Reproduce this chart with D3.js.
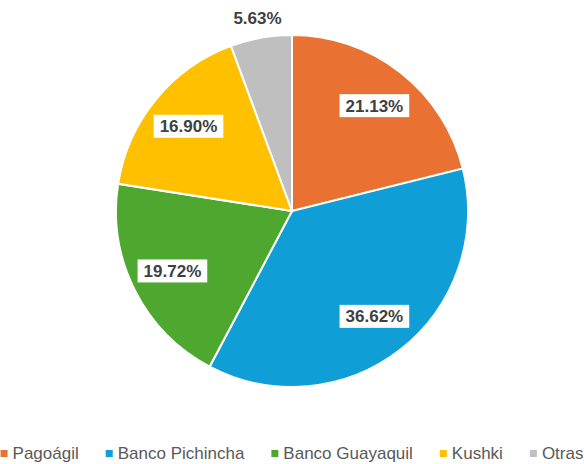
<!DOCTYPE html>
<html>
<head>
<meta charset="utf-8">
<script src="https://cdn.jsdelivr.net/npm/d3@7"></script>
<style>
  body { margin: 0; background: #fff; }
  svg { display: block; font-family: "Liberation Sans", Arial, sans-serif; }
</style>
</head>
<body>
<div id="chart"></div>
<script>
// Payment channel share (counts out of 71)
const categories = ['Pagoágil', 'Banco Pichincha', 'Banco Guayaquil', 'Kushki', 'Otras'];
const counts = [15, 26, 14, 12, 4];
const colors = ['#E97132', '#0F9ED5', '#4EA72E', '#FFC000', '#BFBFBF'];

const W = 584, H = 464;
const cx = 292, cy = 211, radius = 176;

const data = categories.map((c, i) => ({ name: c, value: counts[i], color: colors[i] }));
const total = d3.sum(counts);

const svg = d3.select('#chart').append('svg')
    .attr('width', W)
    .attr('height', H);

const g = svg.append('g')
    .attr('transform', `translate(${cx},${cy})`);

const pie = d3.pie()
    .value(d => d.value)
    .sort(null);

const arc = d3.arc()
    .innerRadius(0)
    .outerRadius(radius);

const arcs = pie(data);

g.selectAll('path')
    .data(arcs)
    .enter()
    .append('path')
    .attr('d', arc)
    .attr('fill', d => d.data.color)
    .attr('stroke', '#fff')
    .attr('stroke-width', 2);

// Data labels: inside with white box, small slices outside
const fmt = d => (d.data.value / total * 100).toFixed(2) + '%';

arcs.forEach(d => {
    const mid = (d.startAngle + d.endAngle) / 2;
    const small = d.data.value / total < 0.1;
    const r = small ? radius + 20 : radius * 0.76;
    const x = Math.sin(mid) * r;
    const y = -Math.cos(mid) * r;

    const lab = g.append('g').attr('transform', `translate(${x},${y})`);
    const t = lab.append('text')
        .attr('text-anchor', 'middle')
        .attr('dy', '0.36em')
        .style('font-size', '17px')
        .style('font-weight', 'bold')
        .attr('fill', '#404040')
        .text(fmt(d));

    if (!small) {
        const bb = t.node().getBBox();
        lab.insert('rect', 'text')
            .attr('x', bb.x - 6)
            .attr('y', -11.5)
            .attr('width', bb.width + 12)
            .attr('height', 23)
            .attr('fill', '#fff');
    }
});

// Legend
const legend = svg.append('g')
    .attr('transform', `translate(0, ${H - 5})`);

const items = [];
data.forEach(d => {
    const row = legend.append('g');
    row.append('rect')
        .attr('x', 0)
        .attr('y', -9)
        .attr('width', 7)
        .attr('height', 7)
        .attr('fill', d.color);
    const t = row.append('text')
        .attr('x', 12)
        .attr('y', 0)
        .style('font-size', '17px')
        .attr('fill', '#595959')
        .text(d.name);
    const w = 12 + t.node().getComputedTextLength();
    items.push({ row, w });
});

const gap = 27;
const totalW = d3.sum(items, d => d.w) + gap * (items.length - 1);
let lx = (W - totalW) / 2;
items.forEach(it => {
    it.row.attr('transform', `translate(${lx},0)`);
    lx += it.w + gap;
});
</script>
</body>
</html>
